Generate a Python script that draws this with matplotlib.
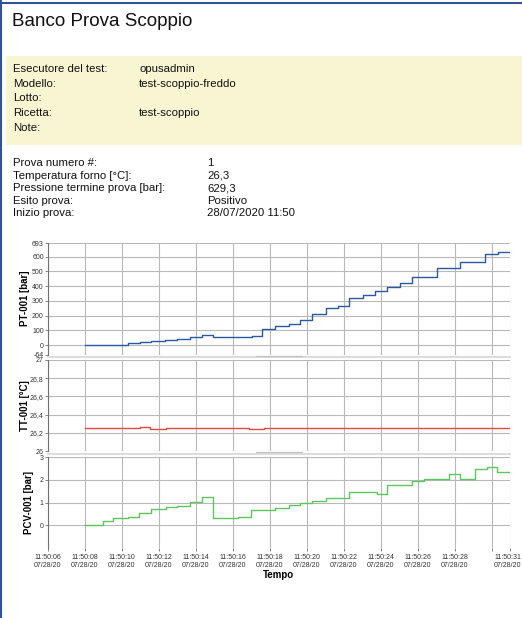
"""
Banco Prova Scoppio - report page with PT / TT / PCV trends.
"""
import matplotlib
matplotlib.use("Agg")
import matplotlib.pyplot as plt
import matplotlib.transforms as mtransforms
from matplotlib.patches import Rectangle
from matplotlib.lines import Line2D
from datetime import datetime, timedelta

plt.rcParams['font.family'] = ['Liberation Sans', 'DejaVu Sans']

W, H = 522, 618

# header data
info_labels = ["Esecutore del test:", "Modello:", "Lotto:", "Ricetta:", "Note:"]
info_values = ["opusadmin", "test-scoppio-freddo", "", "test-scoppio", ""]
test_labels = ["Prova numero #:", "Temperatura forno [°C]:",
               "Pressione termine prova [bar]:", "Esito prova:", "Inizio prova:"]
test_values = ["1", "26,3", "629,3", "Positivo", "28/07/2020 11:50"]

# time axis: seconds after 11:50:06
t_start = datetime(2020, 7, 28, 11, 50, 6)
t_ticks = [0, 2, 4, 6, 8, 10, 12, 14, 16, 18, 20, 22, 24, 25]
t_hidden = [24]          # 11:50:30 label is dropped (overlaps 11:50:31)

# PT-001 [bar]
pt_t = [2.0, 4.35, 4.99, 5.58, 6.34, 6.97, 7.66, 8.33, 8.93, 11.04, 11.58,
        12.30, 13.03, 13.66, 14.29, 15.07, 15.68, 16.28, 17.06, 17.72, 18.32,
        19.04, 19.71, 21.07, 22.29, 23.63, 24.37, 25.0]
pt_v = [0, 11, 20, 27, 32, 41, 52, 68, 57, 64, 109, 132, 141, 172, 209, 254,
        263, 320, 343, 370, 393, 424, 463, 522, 565, 620, 630, 630]
pt_ticks = [-64, 0, 100, 200, 300, 400, 500, 600, 693]

# TT-001 [°C]
tt_t = [2.0, 5.0, 5.5, 6.4, 10.9, 11.7, 25.0]
tt_v = [26.25, 26.26, 26.24, 26.25, 26.24, 26.25, 26.25]
tt_ticks = [26, 26.2, 26.4, 26.6, 26.8, 27]

# PCV-001 [bar]
pcv_t = [2.0, 2.96, 3.54, 4.35, 4.95, 5.57, 6.40, 6.97, 7.70, 8.33, 8.93,
         10.26, 11.0, 12.3, 13.03, 13.66, 14.29, 15.07, 16.28, 17.78, 18.32,
         19.71, 20.34, 21.70, 22.29, 23.09, 23.74, 24.32, 25.0]
pcv_v = [0, 0.19, 0.31, 0.37, 0.52, 0.72, 0.81, 0.86, 1.02, 1.23, 0.31,
         0.37, 0.66, 0.75, 0.87, 1.00, 1.05, 1.21, 1.48, 1.37, 1.77,
         1.94, 2.05, 2.27, 2.04, 2.47, 2.57, 2.33, 2.33]
pcv_ticks = [0, 1, 2, 3]


def fx(x):
    return x / W


def fy(y):
    return 1 - y / H


def px_axes(fig, x0, y0, x1, y1):
    return fig.add_axes([fx(x0), fy(y1), (x1 - x0) / W, (y1 - y0) / H])


def fmt_num(v):
    s = f"{v:g}"
    return s.replace('.', ',')


fig = plt.figure(figsize=(W / 100, H / 100), dpi=100)
fig.patch.set_facecolor('white')

# page borders
fig.add_artist(Line2D([fx(0), fx(W)], [fy(2.5), fy(2.5)], color='#2f5597', lw=1.5))
fig.add_artist(Line2D([fx(1), fx(1)], [fy(0), fy(H)], color='#2f5597', lw=1.5))

fig.text(fx(12), fy(22), "Banco Prova Scoppio", fontsize=13.5, va='center',
         color='#111111')

# yellow info box
fig.add_artist(Rectangle((fx(6), fy(145)), 1 - fx(6), (145 - 56) / H,
                         facecolor='#f8f6d2', edgecolor='none'))
for i, (lab, val) in enumerate(zip(info_labels, info_values)):
    y = 69 + i * 14.7
    fig.text(fx(13), fy(y), lab, fontsize=8.2, va='center', color='#111111')
    fig.text(fx(139), fy(y), val, fontsize=8.2, va='center', color='#111111')

for i, (lab, val) in enumerate(zip(test_labels, test_values)):
    y = 163 + i * 12.6
    fig.text(fx(13), fy(y), lab, fontsize=8.2, va='center', color='#111111')
    fig.text(fx(207), fy(y), val, fontsize=8.2, va='center', color='#111111')

# chart panels
X0, X1 = 48, 510
ax1 = px_axes(fig, X0, 243, X1, 354.5)
ax2 = px_axes(fig, X0, 360, X1, 451)
ax3 = px_axes(fig, X0, 457, X1, 548)

ax1.step(pt_t, pt_v, where='post', color='#2a58a8', lw=1.0)
ax2.step(tt_t, tt_v, where='post', color='#e8483e', lw=1.0)
ax3.step(pcv_t, pcv_v, where='post', color='#5cc85c', lw=1.0)

ax1.set_ylim(-64, 693)
ax2.set_ylim(26, 27)
ax3.set_ylim(-1, 3)

ax1.set_yticks(pt_ticks)
ax1.set_yticklabels([str(v) for v in pt_ticks])
ax2.set_yticks(tt_ticks)
ax2.set_yticklabels([fmt_num(v) for v in tt_ticks])
ax3.set_yticks(pcv_ticks)
ax3.set_yticklabels([str(v) for v in pcv_ticks])

tick_labels = []
for t in t_ticks:
    if t in t_hidden:
        tick_labels.append("")
    else:
        ts = t_start + timedelta(seconds=t)
        tick_labels.append(ts.strftime("%H:%M:%S") + "\n" + ts.strftime("%m/%d/%y"))

for ax in (ax1, ax2, ax3):
    ax.set_xlim(0, 25)
    ax.set_xticks(t_ticks)
    for s in ('top', 'right', 'bottom'):
        ax.spines[s].set_visible(False)
    ax.spines['left'].set_color('#707070')
    ax.spines['left'].set_linewidth(0.8)
    ax.grid(True, color='#b8b8b8', lw=0.8)
    ax.set_axisbelow(True)
    ax.tick_params(axis='y', length=2, width=0.6, color='#707070',
                   labelsize=5, labelcolor='#333333', pad=1)

for ax in (ax1, ax2):
    ax.tick_params(axis='x', length=0, labelbottom=False)

ax3.set_xticklabels(tick_labels)
ax3.tick_params(axis='x', length=2, width=0.6, color='#707070',
                labelsize=5, labelcolor='#333333', pad=2)
# keep the last time label inside the page
last = ax3.get_xticklabels()[-1]
last.set_transform(last.get_transform() +
                   mtransforms.ScaledTranslation(-2 / 100, 0, fig.dpi_scale_trans))

ax3.set_xlabel("Tempo", fontsize=7, fontweight='bold', labelpad=1)
ax3.xaxis.set_label_coords((278 - X0) / (X1 - X0), -0.24)

ax1.set_ylabel("PT-001 [bar]", fontsize=7, fontweight='bold')
ax1.yaxis.set_label_coords((30 - X0) / (X1 - X0), 0.5)
ax2.set_ylabel("TT-001 [°C]", fontsize=7, fontweight='bold')
ax2.yaxis.set_label_coords((30 - X0) / (X1 - X0), 0.5)
ax3.set_ylabel("PCV-001 [bar]", fontsize=7, fontweight='bold')
ax3.yaxis.set_label_coords((34 - X0) / (X1 - X0), 0.5)

# panel splitters
for y in (357, 453.5):
    fig.add_artist(Line2D([fx(X0), fx(X1)], [fy(y), fy(y)],
                          color='#dcdcdc', lw=1.5))
    fig.add_artist(Line2D([fx(256), fx(302)], [fy(y - 1.5), fy(y - 1.5)],
                          color='#bfbfbf', lw=0.8))

fig.savefig("out.png", dpi=100)
